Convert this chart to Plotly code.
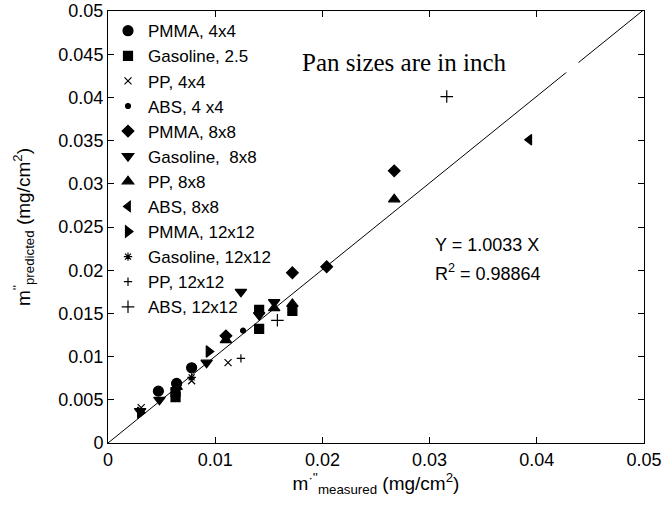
import plotly.graph_objects as go

# ---------------- data ----------------
series_names = ["PMMA, 4x4", "Gasoline, 2.5", "PP, 4x4", "ABS, 4 x4", "PMMA, 8x8",
                "Gasoline,  8x8", "PP, 8x8", "ABS, 8x8", "PMMA, 12x12",
                "Gasoline, 12x12", "PP, 12x12", "ABS, 12x12"]

pmma_4_x = [0.0047, 0.0064, 0.0078]
pmma_4_y = [0.0060, 0.0069, 0.0087]
gas_25_x = [0.0063, 0.0063, 0.0141, 0.0141, 0.0172]
gas_25_y = [0.0053, 0.0059, 0.0154, 0.0132, 0.0153]
pp_4_x = [0.0031, 0.0078, 0.0112]
pp_4_y = [0.0041, 0.0072, 0.0093]
abs_4_x = [0.0126]
abs_4_y = [0.0130]
pmma_8_x = [0.0110, 0.0172, 0.0204, 0.0267]
pmma_8_y = [0.0124, 0.0197, 0.0204, 0.0315]
gas_8_x = [0.0030, 0.0048, 0.0092, 0.0124, 0.0141, 0.0155]
gas_8_y = [0.0037, 0.0050, 0.0093, 0.0175, 0.0148, 0.0163]
pp_8_x = [0.0064, 0.0110, 0.0155, 0.0172, 0.0267]
pp_8_y = [0.0065, 0.0119, 0.0156, 0.0161, 0.0282]
abs_8_x = [0.0393]
abs_8_y = [0.0351]
pmma_12_x = [0.0030, 0.0094]
pmma_12_y = [0.0035, 0.0106]
gas_12_x = [0.0078]
gas_12_y = [0.0076]
pp_12_x = [0.0124]
pp_12_y = [0.0098]
abs_12_x = [0.0158, 0.0316]
abs_12_y = [0.0142, 0.0401]

fit_slope = 1.0033
fit_x = [0.0, 0.05]

x_ticks = [0, 0.01, 0.02, 0.03, 0.04, 0.05]
x_tick_text = ["0", "0.01", "0.02", "0.03", "0.04", "0.05"]
y_ticks = [0, 0.005, 0.01, 0.015, 0.02, 0.025, 0.03, 0.035, 0.04, 0.045, 0.05]
y_tick_text = ["0", "0.005", "0.01", "0.015", "0.02", "0.025", "0.03", "0.035",
               "0.04", "0.045", "0.05"]

xs = [pmma_4_x, gas_25_x, pp_4_x, abs_4_x, pmma_8_x, gas_8_x, pp_8_x, abs_8_x,
      pmma_12_x, gas_12_x, pp_12_x, abs_12_x]
ys = [pmma_4_y, gas_25_y, pp_4_y, abs_4_y, pmma_8_y, gas_8_y, pp_8_y, abs_8_y,
      pmma_12_y, gas_12_y, pp_12_y, abs_12_y]
symbols = ["circle", "square", "x-thin-open", "circle", "diamond", "triangle-down",
           "triangle-up", "triangle-left", "triangle-right", "asterisk-open",
           "cross-thin-open", "cross-thin-open"]
sizes = [10, 9, 7, 5, 9, 10, 10, 9, 10, 7, 6, 9]

SANS = "Liberation Sans, Arial, sans-serif"
SERIF = "Liberation Serif, Times New Roman, serif"

fig = go.Figure()
for name, x, y, sym, sz in zip(series_names, xs, ys, symbols, sizes):
    fig.add_trace(go.Scatter(
        x=x, y=y, mode="markers", name=name,
        marker=dict(symbol=sym, size=sz, color="black",
                    line=dict(color="black", width=1.2)),
    ))

fig.add_trace(go.Scatter(
    x=fit_x, y=[fit_slope * v for v in fit_x], mode="lines",
    line=dict(color="black", width=1), showlegend=False, hoverinfo="skip",
))

# text box with white fill (it hides a short piece of the fit line, as in the original)
fig.add_annotation(x=0.0180, y=0.04407, xref="x", yref="y", xanchor="left",
                   yanchor="middle", showarrow=False, text="Pan sizes are in inch",
                   width=276, height=20, align="left", valign="middle",
                   bgcolor="white", borderpad=0,
                   font=dict(family=SERIF, size=25, color="black"))
fig.add_annotation(x=0.03030, y=0.02292, xref="x", yref="y", xanchor="left",
                   yanchor="middle", showarrow=False,
                   text="Y = %.4f X" % fit_slope,
                   font=dict(family=SANS, size=18, color="black"))
fig.add_annotation(x=0.03030, y=0.01968, xref="x", yref="y", xanchor="left",
                   yanchor="middle", showarrow=False,
                   text="R<sup>2</sup> = 0.98864",
                   font=dict(family=SANS, size=18, color="black"))

axis_common = dict(showline=True, linecolor="black", linewidth=1, mirror="allticks",
                   ticks="inside", ticklen=6, tickcolor="black", showgrid=False,
                   zeroline=False, tickfont=dict(family=SANS, size=18, color="black"))

fig.update_xaxes(range=[0, 0.05], tickvals=x_ticks, ticktext=x_tick_text,
                 title=dict(text="m<sup>·''</sup><sub>measured</sub> (mg/cm<sup>2</sup>)",
                            font=dict(family=SANS, size=19, color="black"), standoff=8),
                 **axis_common)
fig.update_yaxes(range=[0, 0.05], tickvals=y_ticks, ticktext=y_tick_text,
                 title=dict(text="m<sup>''</sup><sub>predicted</sub> (mg/cm<sup>2</sup>)",
                            font=dict(family=SANS, size=19, color="black"), standoff=22),
                 **axis_common)

fig.update_layout(
    width=665, height=505,
    margin=dict(l=108, r=21, t=11, b=62, autoexpand=False),
    paper_bgcolor="white", plot_bgcolor="white",
    font=dict(family=SANS, size=18, color="black"),
    showlegend=True,
    legend=dict(x=0.0, y=0.995, xanchor="left", yanchor="top",
                bgcolor="rgba(0,0,0,0)", borderwidth=0,
                font=dict(family=SANS, size=17, color="black"),
                itemwidth=30),
)

fig.write_html("out.html")
